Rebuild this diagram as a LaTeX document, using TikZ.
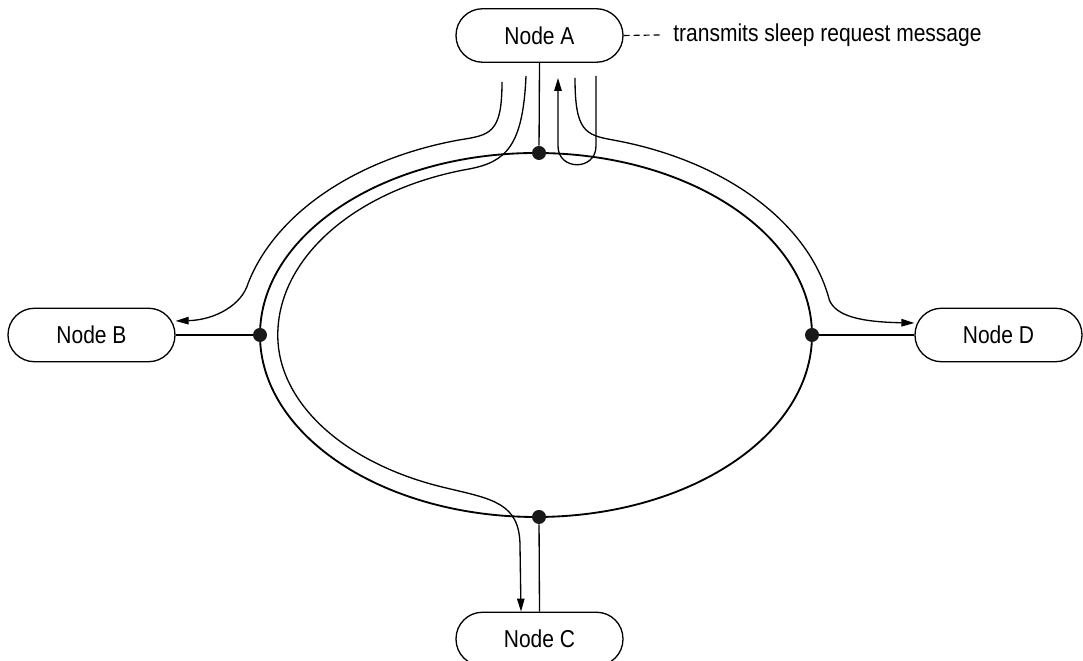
\documentclass[tikz,border=0pt]{standalone}
\usepackage{fontspec}
\setmainfont{Liberation Sans}[FakeStretch=0.86]
\usetikzlibrary{arrows.meta}

\begin{document}
\begin{tikzpicture}[x=0.02cm, y=0.02cm,
    station/.style={draw, line width=0.75pt, rounded corners=0.53cm, minimum width=3.34cm,
        minimum height=1.07cm, inner sep=0pt, font=\fontsize{13.9}{16}\selectfont},
    junction/.style={circle, fill=black!90, inner sep=0pt, minimum size=0.28cm},
    link/.style={line width=0.75pt},
    msg/.style={line width=0.75pt, -{Triangle[length=0.26cm, width=0.15cm]}}]
    \useasboundingbox (0,0) rectangle (1083,661);
    \draw[line width=1.05pt] (536,326) ellipse [x radius=276, y radius=182];
    \node (nA) at (539.5,625.5) [station] {Node A};
    \node (nB) at (91.5,326) [station] {Node B};
    \node (nC) at (539.5,22) [station] {Node C};
    \node (nD) at (998.5,326) [station] {Node D};
    \node (jA) at (539,508) [junction] {};
    \node (jB) at (260,326) [junction] {};
    \node (jC) at (539,144) [junction] {};
    \node (jD) at (812,326) [junction] {};
    \node (note) at (660,626) [anchor=west, inner xsep=0.26cm, inner ysep=0pt,
        font=\fontsize{13.9}{16}\selectfont] {transmits sleep request message};
    \draw[link] (nA.south) -- (jA);
    \draw[link] (nB.east) -- (jB);
    \draw[link] (jC) -- (nC.north);
    \draw[link] (jD) -- (nD.west);
    \draw[line width=0.65pt, dash pattern=on 0.12cm off 0.08cm] (nA.east) -- (note.west);
    \coordinate (mB) at (502,579);
    \coordinate (mC) at (526,585);
    \coordinate (mD) at (575,583);
    \coordinate (lpOut) at (596,585);
    \coordinate (lpIn) at (558,583);
    \draw[msg] (mB) .. controls (502,527) and (490,526) .. (459,521)
        arc[start angle=105, end angle=165, x radius=298, y radius=202]
        .. controls (242,356) and (215,341) .. ([yshift=0.28cm]nB.east);
    \draw[msg] (mC) .. controls (523,515) and (506,499) .. (469,492)
        arc[start angle=105, end angle=180, x radius=258, y radius=172]
        arc[start angle=180, end angle=250, x radius=258, y radius=163]
        .. controls (492,162) and (520,158) .. (520,115) -- ([xshift=-0.37cm]nC.north);
    \draw[msg] (mD) .. controls (575,530) and (585,526) .. (613,521)
        arc[start angle=75, end angle=10, x radius=298, y radius=202]
        .. controls (836,345) and (860,339) .. ([yshift=0.24cm]nD.west);
    \draw[msg] (lpOut) -- (596,515) .. controls (596,490) and (558,490) .. (558,515) -- (lpIn);
\end{tikzpicture}
\end{document}
